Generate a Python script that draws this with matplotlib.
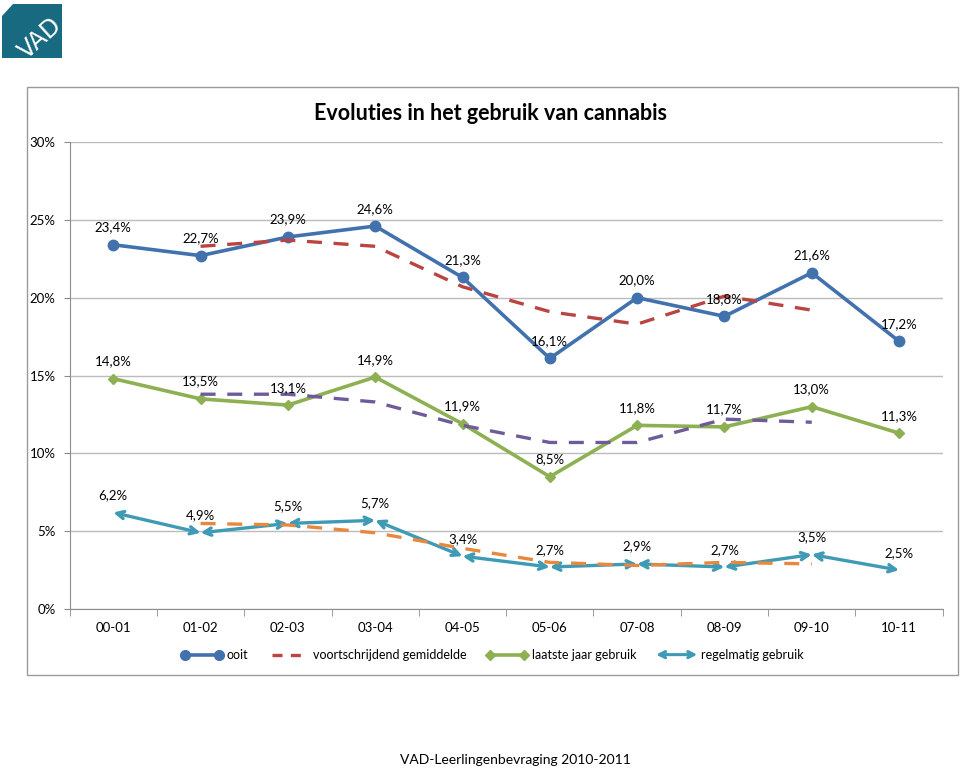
import matplotlib.pyplot as plt
from matplotlib.patches import Rectangle, Polygon, FancyArrowPatch
from matplotlib.lines import Line2D
from matplotlib.legend_handler import HandlerBase

plt.rcParams['font.family'] = ['Lato', 'DejaVu Sans']

years = ['00-01', '01-02', '02-03', '03-04', '04-05', '05-06', '07-08', '08-09', '09-10', '10-11']
ooit = [23.4, 22.7, 23.9, 24.6, 21.3, 16.1, 20.0, 18.8, 21.6, 17.2]
laatste_jaar = [14.8, 13.5, 13.1, 14.9, 11.9, 8.5, 11.8, 11.7, 13.0, 11.3]
regelmatig = [6.2, 4.9, 5.5, 5.7, 3.4, 2.7, 2.9, 2.7, 3.5, 2.5]
# voortschrijdend gemiddelde (01-02 .. 09-10)
gem_ooit = [23.3, 23.7, 23.3, 20.7, 19.1, 18.3, 20.1, 19.2]
gem_laatste = [13.8, 13.8, 13.3, 11.8, 10.7, 10.7, 12.2, 12.0]
gem_regelmatig = [5.5, 5.4, 4.9, 3.9, 3.0, 2.8, 3.0, 2.9]
yticks = [0, 5, 10, 15, 20, 25, 30]

blue = '#4272AE'
red = '#B94441'
green = '#8DB052'
purple = '#6F5A9A'
teal = '#3E9AB5'
orange = '#E8883F'

fig = plt.figure(figsize=(9.6, 7.7), dpi=100)

# chart frame
fig.patches.append(Rectangle((0.028, 0.123), 0.97, 0.764, transform=fig.transFigure,
                             fill=False, edgecolor='#9a9a9a', lw=1))

# logo
W, H = 960, 770
pts = [(13, 4), (62, 4), (62, 58), (2, 58), (2, 16)]
fig.patches.append(Polygon([(x / W, 1 - y / H) for x, y in pts], closed=True,
                           transform=fig.transFigure, facecolor='#176a80', edgecolor='none'))
fig.text(40 / W, 1 - 38 / H, 'VAD', color='white', fontsize=17, rotation=42,
         ha='center', va='center', family=['DejaVu Sans'])

ax = fig.add_axes([0.0725, 0.209, 0.9095, 0.6066])
x = list(range(len(years)))
xm = x[1:9]

ax.plot(x, ooit, color=blue, lw=2.6, marker='o', ms=7.5, zorder=3)
ax.plot(x, laatste_jaar, color=green, lw=2.6, marker='D', ms=5, zorder=3)
for i in range(len(x) - 1):
    ax.annotate('', xy=(x[i + 1], regelmatig[i + 1]), xytext=(x[i], regelmatig[i]),
                arrowprops=dict(arrowstyle='<->', color=teal, lw=2.4, shrinkA=0, shrinkB=0,
                                mutation_scale=13), zorder=3)

ax.plot(xm, gem_ooit, color=red, lw=2.4, ls=(0, (4.5, 3.5)), zorder=4)
ax.plot(xm, gem_laatste, color=purple, lw=2.4, ls=(0, (4.5, 3.5)), zorder=4)
ax.plot(xm, gem_regelmatig, color=orange, lw=2.4, ls=(0, (4.5, 3.5)), zorder=4)

for series in (ooit, laatste_jaar, regelmatig):
    for i, v in zip(x, series):
        ax.annotate(f'{v:.1f}%'.replace('.', ','), (i, v), xytext=(0, 12.5),
                    textcoords='offset points', ha='center', va='center', fontsize=9.5,
                    color='black', zorder=5)

ax.set_xlim(-0.5, len(years) - 0.5)
ax.set_ylim(0, 30)
ax.set_yticks(yticks)
ax.set_yticklabels([f'{t}%' for t in yticks], fontsize=9.5)
ax.set_xticks(x)
ax.set_xticklabels(years, fontsize=9.5)
ax.set_xticks([i + 0.5 for i in range(-1, len(years))], minor=True)
ax.tick_params(axis='x', which='major', length=0, pad=9)
ax.tick_params(axis='x', which='minor', length=5, color='#8c8c8c')
ax.tick_params(axis='y', length=4, color='#8c8c8c', pad=6)
ax.grid(axis='y', color='#bcbcbc', lw=1)
ax.set_axisbelow(True)
for s in ('top', 'right'):
    ax.spines[s].set_visible(False)
for s in ('left', 'bottom'):
    ax.spines[s].set_color('#8c8c8c')

fig.text(0.511, 1 - 113 / H, 'Evoluties in het gebruik van cannabis', ha='center', va='center',
         fontsize=15.5, fontweight='bold')


class ArrowHandler(HandlerBase):
    def create_artists(self, legend, orig_handle, xdescent, ydescent, width, height, fontsize, trans):
        y = height / 2 - ydescent
        a = FancyArrowPatch((-xdescent, y), (-xdescent + width, y), arrowstyle='<->',
                            color=teal, lw=2.2, mutation_scale=11, shrinkA=0, shrinkB=0,
                            transform=trans)
        return [a]


arrow_handle = object()
handles = [Line2D([], [], color=blue, lw=2.6, marker='o', ms=7),
           Line2D([], [], color=red, lw=2.4, ls=(0, (3, 2.5))),
           Line2D([], [], color=green, lw=2.6, marker='D', ms=5),
           arrow_handle]
labels = ['ooit', 'voortschrijdend gemiddelde', 'laatste jaar gebruik', 'regelmatig gebruik']
fig.legend(handles, labels, loc='center', bbox_to_anchor=(0.513, 1 - 655 / H), ncol=4,
           frameon=False, fontsize=9, handlelength=3.3, handletextpad=0.3,
           columnspacing=1.6, numpoints=2, handler_map={arrow_handle: ArrowHandler()})

fig.text(0.537, 1 - 760 / H, 'VAD-Leerlingenbevraging 2010-2011', ha='center', va='center',
         fontsize=10)

fig.savefig('out.png', dpi=100)
